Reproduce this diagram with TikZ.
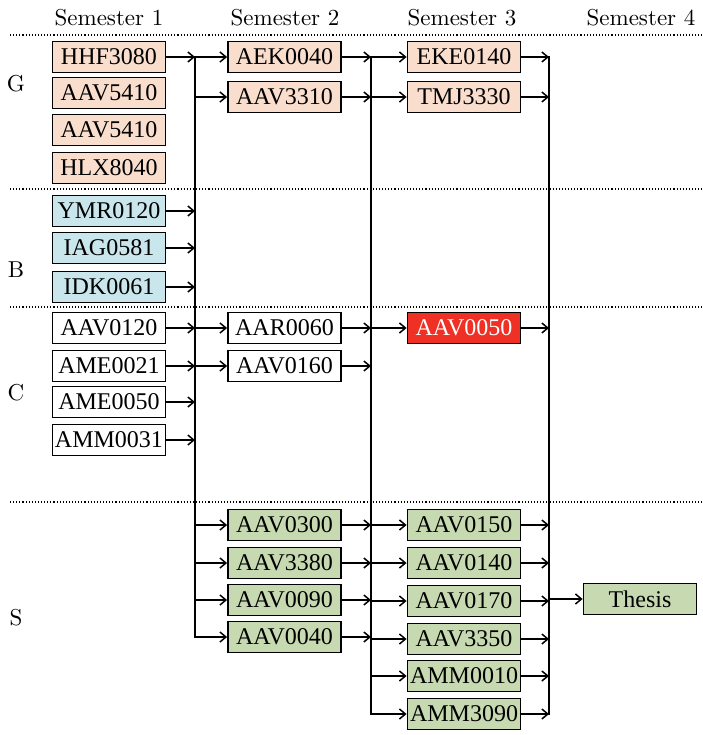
\documentclass[tikz,border=0pt]{standalone}
\usepackage{fontspec}
\newfontfamily\coursefont{Liberation Serif}
\usetikzlibrary{arrows.meta}
\definecolor{peach}{HTML}{F9DECD}
\definecolor{ice}{HTML}{C9E6EC}
\definecolor{sage}{HTML}{C7D9B0}
\definecolor{signal}{HTML}{EE3124}
\newcommand\biglabel[1]{\scalebox{2.3}{#1}}

\begin{document}
\begin{tikzpicture}[x=1pt,y=-1pt,
  course/.style={draw,line width=1.8pt,minimum width=113pt,minimum height=31pt,
    inner sep=0pt,font=\coursefont\fontsize{24}{24}\selectfont},
  gcourse/.style={course,fill=peach},
  bcourse/.style={course,fill=ice},
  scourse/.style={course,fill=sage},
  arr/.style={line width=1.5pt,-{Straight Barb[length=6pt,width=10pt]}},
  bar/.style={line width=1.5pt},
  sep/.style={dotted,line width=1.1pt},
  head/.style={font=\fontsize{10}{12}\selectfont}]
\useasboundingbox (0,0) rectangle (702,735);

% headers and groups
\node[head] (h1) at (109,18) {\biglabel{Semester \oldstylenums{1}}};
\node[head] (h2) at (285,18) {\biglabel{Semester \oldstylenums{2}}};
\node[head] (h3) at (462,18) {\biglabel{Semester \oldstylenums{3}}};
\node[head] (h4) at (641,18) {\biglabel{Semester \oldstylenums{4}}};
\node[head] (gG) at (16,84) {\biglabel{G}};
\node[head] (gB) at (16,270) {\biglabel{B}};
\node[head] (gC) at (16,393) {\biglabel{C}};
\node[head] (gS) at (16,618) {\biglabel{S}};
\foreach \y in {35,189,307,502}
  \draw[sep] (10,\y) -- (702,\y);

% semester 1
\node[gcourse] (hhf3080) at (109,57) {HHF3080};
\node[gcourse] (aav5410a) at (109,93) {AAV5410};
\node[gcourse] (aav5410b) at (109,130) {AAV5410};
\node[gcourse] (hlx8040) at (109,168) {HLX8040};
\node[bcourse] (ymr0120) at (109,211) {YMR0120};
\node[bcourse] (iag0581) at (109,248) {IAG0581};
\node[bcourse] (idk0061) at (109,287) {IDK0061};
\node[course] (aav0120) at (109,328) {AAV0120};
\node[course] (ame0021) at (109,366) {AME0021};
\node[course] (ame0050) at (109,402) {AME0050};
\node[course] (amm0031) at (109,440) {AMM0031};

% semester 2
\node[gcourse] (aek0040) at (284.5,57) {AEK0040};
\node[gcourse] (aav3310) at (284.5,97) {AAV3310};
\node[course] (aar0060) at (284.5,328) {AAR0060};
\node[course] (aav0160) at (284.5,366) {AAV0160};
\node[scourse] (aav0300) at (284.5,525) {AAV0300};
\node[scourse] (aav3380) at (284.5,563) {AAV3380};
\node[scourse] (aav0090) at (284.5,600) {AAV0090};
\node[scourse] (aav0040) at (284.5,637) {AAV0040};

% semester 3
\node[gcourse] (eke0140) at (464,57) {EKE0140};
\node[gcourse] (tmj3330) at (464,97) {TMJ3330};
\node[course,fill=signal,text=white] (aav0050) at (464,328) {AAV0050};
\node[scourse] (aav0150) at (464,525) {AAV0150};
\node[scourse] (aav0140) at (464,563) {AAV0140};
\node[scourse] (aav0170) at (464,601) {AAV0170};
\node[scourse] (aav3350) at (464,639) {AAV3350};
\node[scourse] (amm0010) at (464,676) {AMM0010};
\node[scourse] (amm3090) at (464,714) {AMM3090};

% semester 4
\node[scourse] (thesis) at (640,599) {Thesis};

% collecting bars
\coordinate (bar1a) at (195,56);
\coordinate (bar1b) at (195,638);
\coordinate (bar2a) at (371,56);
\coordinate (bar2b) at (371,715);
\coordinate (bar3a) at (549,56);
\coordinate (bar3b) at (549,715);
\draw[bar] (bar1a) -- (bar1b);
\draw[bar] (bar2a) -- (bar2b);
\draw[bar] (bar3a) -- (bar3b);

\foreach \c in {hhf3080,ymr0120,iag0581,idk0061,aav0120,ame0021,ame0050,amm0031}
  \draw[arr] (\c.east) -- (\c.east -| bar1a);
\foreach \c in {aek0040,aav3310,aar0060,aav0160,aav0300,aav3380,aav0090,aav0040}
  \draw[arr] (bar1a |- \c.west) -- (\c.west);
\foreach \c in {aek0040,aav3310,aar0060,aav0160,aav0300,aav3380,aav0090,aav0040}
  \draw[arr] (\c.east) -- (\c.east -| bar2a);
\foreach \c in {eke0140,tmj3330,aav0050,aav0150,aav0140,aav0170,aav3350,amm0010,amm3090}
  \draw[arr] (bar2a |- \c.west) -- (\c.west);
\foreach \c in {eke0140,tmj3330,aav0050,aav0150,aav0140,aav0170,aav3350,amm0010,amm3090}
  \draw[arr] (\c.east) -- (\c.east -| bar3a);
\draw[arr] (bar3a |- thesis.west) -- (thesis.west);
\end{tikzpicture}
\end{document}
